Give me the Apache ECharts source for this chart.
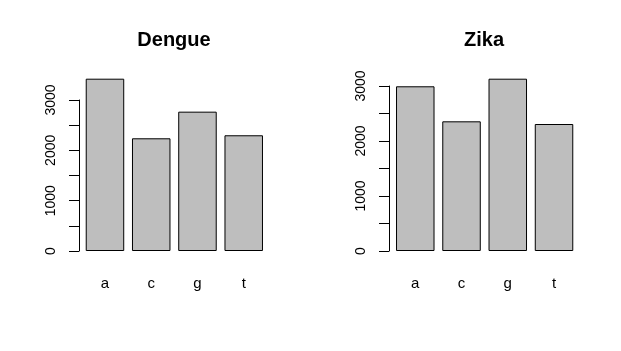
<!DOCTYPE html>
<html>
<head>
<meta charset="utf-8">
<script src="https://cdn.jsdelivr.net/npm/echarts@6/dist/echarts.min.js"></script>
<style>
  html, body { margin: 0; padding: 0; background: #fff; }
  #chart { width: 621px; height: 351px; }
</style>
</head>
<body>
<div id="chart"></div>
<script>
const bases = ["a", "c", "g", "t"];
const dengueCounts = [3423, 2239, 2768, 2299];
const zikaCounts = [2995, 2358, 3133, 2309];
const panelTitles = ["Dengue", "Zika"];
const axisTop = 3000;   // last tick of the y axis (R stops the axis line here)
const tickStep = 500;

const font = "Liberation Sans, Arial, Helvetica, sans-serif";
const chartDom = document.getElementById("chart");
const myChart = echarts.init(chartDom);

// pixel layout of one panel (R plot region)
const zeroY = 251;        // pixel row of value 0
const plotTopY = 71.8;    // top of plot region
const plotH = zeroY - plotTopY;
const panels = [
  { counts: dengueCounts, title: panelTitles[0], barsLeft: 81.85, axisX: 79, titleX: 174 },
  { counts: zikaCounts, title: panelTitles[1], barsLeft: 392.15, axisX: 389, titleX: 484 },
];

const grids = [], xAxes = [], yAxes = [], series = [], titles = [];

panels.forEach((p, i) => {
  const yMax = 1.04 * Math.max(...p.counts); // R's 4% ylim expansion
  const axisH = plotH * axisTop / yMax;

  // grid for bars
  grids.push({ left: p.barsLeft, width: 185, top: plotTopY, height: plotH });
  // grid only for the y axis, spans 0..3000
  grids.push({ left: p.axisX, width: 185, top: zeroY - axisH, height: axisH });

  xAxes.push({
    type: "category",
    gridIndex: 2 * i,
    data: bases,
    axisLine: { show: false },
    axisTick: { show: false },
    axisLabel: { color: "#000", fontSize: 15, fontFamily: font, margin: 25 },
  });
  xAxes.push({ type: "category", gridIndex: 2 * i + 1, data: bases, show: false });

  yAxes.push({
    type: "value",
    gridIndex: 2 * i,
    min: 0,
    max: yMax,
    show: false,
  });
  yAxes.push({
    type: "value",
    gridIndex: 2 * i + 1,
    min: 0,
    max: axisTop,
    interval: tickStep,
    splitLine: { show: false },
    axisLine: { show: true, lineStyle: { color: "#000", width: 1 } },
    axisTick: { show: true, length: 10, lineStyle: { color: "#000", width: 1 } },
    axisLabel: {
      color: "#000",
      fontSize: 14,
      fontFamily: font,
      rotate: 90,
      margin: 21,
      formatter: (v) => (v % 1000 === 0 ? String(v) : ""),
    },
  });

  series.push({
    type: "bar",
    xAxisIndex: 2 * i,
    yAxisIndex: 2 * i,
    data: p.counts,
    barWidth: 38.5,
    itemStyle: { color: "#bebebe", borderColor: "#000", borderWidth: 1 },
    emphasis: { disabled: true },
  });

  titles.push({
    text: p.title,
    left: p.titleX - 5,
    top: 25,
    textAlign: "center",
    textStyle: { fontSize: 20, fontWeight: "bold", color: "#000", fontFamily: font },
  });
});

const options = {
  animation: false,
  backgroundColor: "#fff",
  title: titles,
  grid: grids,
  xAxis: xAxes,
  yAxis: yAxes,
  series: series,
};

myChart.setOption(options);
</script>
</body>
</html>
